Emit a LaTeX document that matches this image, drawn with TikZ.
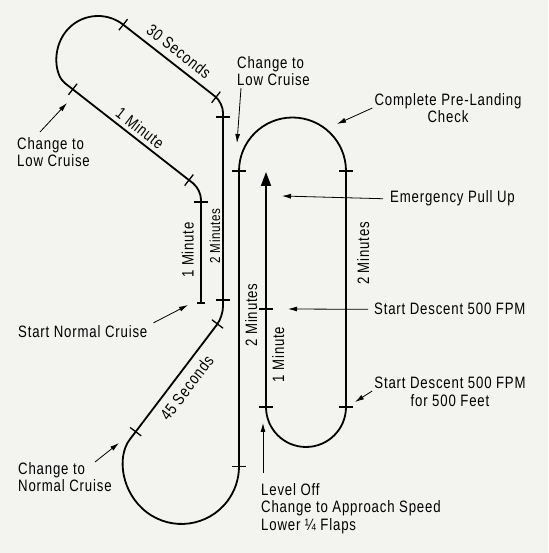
\documentclass[tikz,border=0pt]{standalone}
\usepackage{fontspec}
\setmainfont{Liberation Sans}[FakeStretch=0.8,LetterSpace=5]
\usetikzlibrary{arrows.meta}
\definecolor{paper}{RGB}{243,243,240}
\newcommand{\lblfont}{\fontsize{16.5}{17.5}\selectfont}
\newcommand{\smallfont}{\fontsize{14.5}{16}\selectfont}

\begin{document}
\begin{tikzpicture}[x=1pt,y=1pt,
  route/.style={line width=1.8pt,line join=round},
  callout/.style={line width=0.8pt,-{Latex[length=9pt,width=5pt]}},
  lbl/.style={inner sep=0pt,font=\lblfont},
  along/.style={inner sep=#1,font=\lblfont},
  hashmark/.pic={\draw[line width=1.3pt] (-7,0) -- (7,0);}]
  \useasboundingbox[fill=paper] (0,0) rectangle (548,553);

  %Flight track
  \draw[route,-{Triangle[length=14pt,width=10pt]}]
    (201,250) [rounded corners=10pt] -- (201,363.5) -- (72.76,463.7)
    [sharp corners] arc[start angle=232,end angle=52,radius=41pt]
    [rounded corners=10pt] -- (223,450.4) -- (223,236.3) -- (135.7,121.3)
    [sharp corners] arc[start angle=142.8,end angle=360,radius=57.5pt]
    -- (239,382) arc[start angle=180,end angle=0,radius=53.5pt]
    -- (346,146) arc[start angle=0,end angle=-180,radius=40pt]
    -- (266,381);
  \draw[line width=1.3pt] (197,250) -- (205,250);

  %Time marks
  \foreach \px/\py/\ang in {123.24/528.31/52, 216/455.8/52, 223/436/0,
      72.76/463.7/52, 189/372.9/52, 201/351/0, 223/253/0,
      217.5/229/142.8, 135.7/121.3/142.8, 239/86.5/0,
      239/382/0, 346/382/0, 346/146/0, 266/146/0, 266/244/0}
    \pic[rotate=\ang] at (\px,\py) {hashmark};

  %Leg times
  \node[along=7pt,rotate=-38,anchor=south] (sec30) at (170.8,491.1) {30 Seconds};
  \node[along=4pt,rotate=-38,anchor=south] (min1a) at (133.9,416.7) {1 Minute};
  \node[along=7pt,rotate=90,anchor=south] (min1b) at (201,303) {1 Minute};
  \node[along=2.5pt,rotate=90,anchor=south,font=\smallfont] (min2a) at (223,317) {2 Minutes};
  \node[along=6pt,rotate=90,anchor=north] (min2b) at (239,238) {2 Minutes};
  \node[along=6pt,rotate=90,anchor=north] (min1c) at (266,198.5) {1 Minute};
  \node[along=11pt,rotate=90,anchor=north] (min2c) at (346,299.5) {2 Minutes};
  \node[along=8pt,rotate=52.8,anchor=north] (sec45) at (175.4,173.6) {45 Seconds};

  %Callouts
  \coordinate (tipA) at (67,450);
  \coordinate (tipB) at (237,410);
  \coordinate (tipC) at (337,429);
  \coordinate (tipD) at (282,357);
  \coordinate (tipE) at (288,244);
  \coordinate (tipF) at (355,151);
  \coordinate (tipG) at (188,248);
  \coordinate (tipH) at (119,110);
  \coordinate (tipI) at (263,130);

  \node[lbl,anchor=north west,align=left] (lowA) at (17,416) {Change to\\Low Cruise};
  \node[lbl,anchor=north west,align=left] (lowB) at (237,497) {Change to\\Low Cruise};
  \node[lbl,anchor=north,align=center] (preland) at (448,460) {Complete Pre-Landing\\Check};
  \node[lbl,anchor=base west] (pullup) at (390,350) {Emergency Pull Up};
  \node[lbl,anchor=base west] (desc1) at (374,238) {Start Descent 500 FPM};
  \node[lbl,anchor=north,align=center] (desc2) at (450,176) {Start Descent 500 FPM\\for 500 Feet};
  \node[lbl,anchor=base west] (normal) at (18,215) {Start Normal Cruise};
  \node[lbl,anchor=north west,align=left] (chgN) at (18,91) {Change to\\Normal Cruise};
  \node[lbl,anchor=north west,align=left] (level) at (261,70) {Level Off\\Change to Approach Speed\\Lower ¼ Flaps};

  \draw[callout] ([shift={(23,5)}]lowA.north west) -- (tipA);
  \draw[callout] ([shift={(4,-2)}]lowB.south west) -- (tipB);
  \draw[callout] ([xshift=-2pt]preland.west) -- (tipC);
  \draw[callout] ([xshift=-7pt]pullup.west) -- (tipD);
  \draw[callout] ([xshift=-6pt]desc1.west) -- (tipE);
  \draw[callout] ([shift={(-2,-14)}]desc2.north west) -- (tipF);
  \draw[callout] ([shift={(6,3)}]normal.north east) -- (tipG);
  \draw[callout] ([shift={(77,0)}]chgN.north west) -- (tipH);
  \draw[callout] ([shift={(2,10)}]level.north west) -- (tipI);
\end{tikzpicture}
\end{document}
